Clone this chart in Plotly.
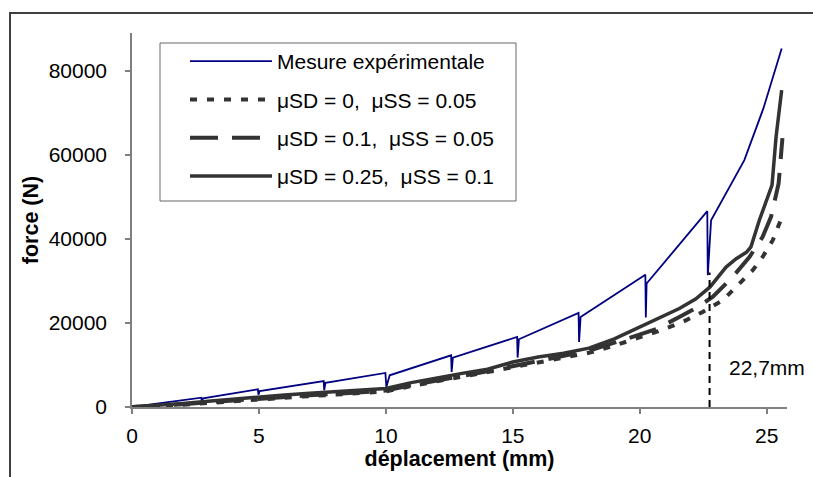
import plotly.graph_objects as go

# ---------------- data ----------------
exp_x = [0, 2.73, 2.75, 2.80, 4.96, 4.98, 5.03, 7.55, 7.57, 7.62, 9.98, 10.02, 10.15,
         12.57, 12.59, 12.64, 15.17, 15.19, 15.24, 17.59, 17.61, 17.67, 20.22, 20.24, 20.27,
         22.66, 22.68, 22.81, 24.12, 24.87, 25.59]
exp_y = [0, 2220, 1350, 2050, 4210, 2950, 3800, 6190, 3970, 5750, 8100, 4760, 7550,
         12300, 8330, 11760, 16670, 11760, 16120, 22380, 15480, 21430, 31500, 21290, 29380,
         46600, 31360, 44450, 58740, 71050, 85300]

sim0_x = [0, 1, 2, 3, 4, 5, 6, 7, 8, 9, 10, 11, 12, 13, 14, 15, 16, 17, 18, 19, 20,
          20.71, 21.69, 22.48, 23.27, 23.8, 24.45, 24.84, 25.24, 25.5, 25.62]
sim0_y = [0, 200, 550, 950, 1400, 1800, 2200, 2600, 2950, 3300, 3700, 5000, 6200, 7200,
          8300, 9400, 10600, 11700, 12900, 14600, 16500, 18000, 20240, 22620, 25400, 28570,
          32550, 35710, 39690, 43650, 45500]

sim1_x = [0, 1, 2, 3, 4, 5, 6, 7, 8, 9, 10, 11, 12, 13, 14, 15, 16, 17, 18, 19, 20,
          20.64, 21.56, 22.28, 22.87, 23.66, 24.32, 24.84, 25.17, 25.47, 25.62]
sim1_y = [0, 250, 650, 1100, 1550, 2000, 2400, 2800, 3100, 3500, 3900, 5200, 6400, 7400,
          8500, 9700, 11000, 12100, 13400, 15300, 17300, 18500, 21430, 23800, 26190, 30950,
          35700, 40480, 45240, 53200, 64000]

sim2_x = [0, 1, 2, 3, 4, 5, 6, 7, 8, 9, 10, 11, 12, 13, 14, 15, 16, 17, 18, 19, 19.59, 20,
          20.51, 21.56, 22.2, 22.77, 23.4, 23.8, 24.2, 24.38, 24.71, 24.98, 25.21, 25.37,
          25.5, 25.59]
sim2_y = [0, 350, 850, 1350, 1900, 2400, 2850, 3300, 3600, 4000, 4400, 5800, 7000, 8000,
          9000, 10700, 11900, 12800, 14000, 16200, 17860, 19000, 20640, 23430, 25700, 28570,
          33300, 35300, 36800, 38100, 44450, 49200, 52800, 64300, 70000, 75400]

names = ["Mesure expérimentale",
         "μSD = 0,  μSS = 0.05",
         "μSD = 0.1,  μSS = 0.05",
         "μSD = 0.25,  μSS = 0.1"]

marker_x = 22.75
marker_top = 32000
marker_label = "22,7mm"
label_pos = (25.03, 9500)

x_ticks = [0, 5, 10, 15, 20, 25]
y_ticks = [0, 20000, 40000, 60000, 80000]

# ---------------- figure ----------------
FONT = "Liberation Sans, Arial, sans-serif"
gray = "#333333"

fig = go.Figure()
fig.add_trace(go.Scatter(x=exp_x, y=exp_y, mode="lines", name=names[0], legendgroup="a",
                         line=dict(color="#000080", width=1.8)))
fig.add_trace(go.Scatter(x=sim0_x, y=sim0_y, mode="lines", name=names[1], legendgroup="b",
                         line=dict(color=gray, width=4, dash="7px,10px")))
fig.add_trace(go.Scatter(x=sim1_x, y=sim1_y, mode="lines", name=names[2], legendgroup="c",
                         line=dict(color=gray, width=4, dash="28px,14px")))
fig.add_trace(go.Scatter(x=sim2_x, y=sim2_y, mode="lines", name=names[3], legendgroup="d",
                         line=dict(color=gray, width=3.5)))

fig.add_shape(type="line", xref="x", yref="y", x0=marker_x, x1=marker_x, y0=0, y1=marker_top,
              line=dict(color="black", width=2, dash="7px,5px"))
fig.add_annotation(x=label_pos[0], y=label_pos[1], xref="x", yref="y", text=marker_label,
                   showarrow=False, font=dict(family=FONT, size=21, color="black"))

L, T, R, B = 132, 33, 787, 407
W, H = R - L, B - T

def px(xp):
    return (xp - L) / W

def py(yp):
    return (B - yp) / H

# outer frame (cut off at right / bottom as in the reference)
fig.add_shape(type="rect", xref="paper", yref="paper",
              x0=px(10), x1=px(820), y0=py(485), y1=py(13),
              line=dict(color="#404040", width=2), fillcolor="rgba(0,0,0,0)", layer="below")
# legend frame
fig.add_shape(type="rect", xref="paper", yref="paper",
              x0=px(160), x1=px(516), y0=py(201), y1=py(43),
              line=dict(color="#666666", width=1), fillcolor="white", layer="below")

axis_common = dict(showgrid=False, zeroline=False, showline=True, linecolor="#808080",
                   linewidth=1.5, ticks="outside", ticklen=5, tickcolor="#808080",
                   tickwidth=1.5, tickfont=dict(family=FONT, size=21, color="black"))

fig.update_xaxes(range=[0, 25.8], tickvals=x_ticks, ticktext=[str(v) for v in x_ticks],
                 ticklabelstandoff=4,
                 title=dict(text="<b>déplacement (mm)</b>",
                            font=dict(family=FONT, size=21.5, color="black"), standoff=0),
                 **axis_common)
fig.update_yaxes(range=[0, 89000], tickvals=y_ticks, ticktext=[str(v) for v in y_ticks],
                 ticklabelstandoff=14,
                 title=dict(text="<b>force (N)</b>",
                            font=dict(family=FONT, size=21.5, color="black"), standoff=4),
                 **axis_common)

fig.update_layout(
    width=813, height=477,
    margin=dict(l=L, r=813 - R, t=T, b=477 - B, pad=0),
    paper_bgcolor="white", plot_bgcolor="white",
    showlegend=True,
    legend=dict(x=px(185), y=py(41), xanchor="left", yanchor="top",
                bgcolor="rgba(0,0,0,0)", borderwidth=0,
                font=dict(family=FONT, size=21, color="black"),
                itemwidth=82, tracegroupgap=8, traceorder="grouped"),
)

fig.write_html("out.html")
